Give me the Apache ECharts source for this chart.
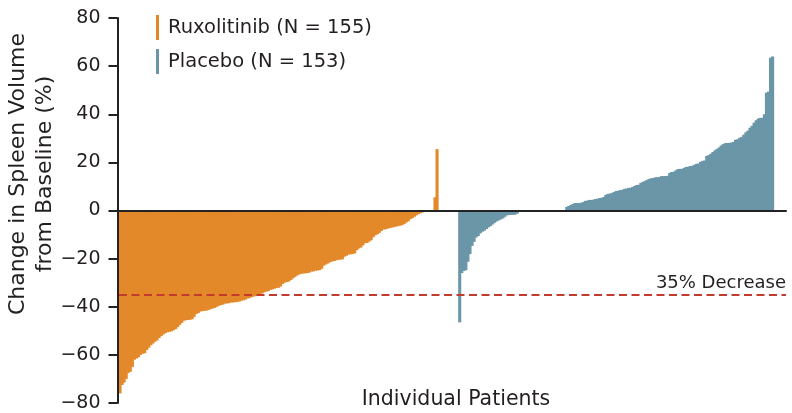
<!DOCTYPE html>
<html><head><meta charset="utf-8">
<script src="https://cdn.jsdelivr.net/npm/echarts@6/dist/echarts.min.js"></script>
<style>html,body{margin:0;padding:0;background:#fff}#c{width:792px;height:413px}</style>
</head><body><div id="c"></div>
<script>
// ---- data ----
const ruxolitinib = [-76,-72.5,-71.5,-70,-67.5,-67,-65,-62,-61.5,-61,
-60,-59.5,-59.3,-58,-57,-56,-55.3,-54.5,-54,-53,
-52.2,-51.5,-51,-50.6,-50.4,-50.2,-49.8,-49.3,-48.5,-47.6,
-46.7,-45.8,-45.6,-45.5,-45.4,-45.2,-44.2,-43,-42.6,-42,
-41.8,-41.7,-41.6,-41.3,-41,-40.7,-40.5,-40,-39.6,-39.3,
-39.1,-38.7,-38.6,-38.5,-38.2,-38.2,-38.1,-38,-37.8,-37.5,
-37.3,-37,-36.5,-36.4,-36,-35.7,-35.6,-35.5,-35,-34.5,
-34,-33.7,-33.5,-33,-32.8,-32.5,-32.2,-32.1,-31.6,-30.5,
-30,-29.7,-29.5,-28.9,-28.2,-27.6,-27,-26.6,-26.3,-26.2,
-26.1,-26,-25.8,-25.4,-25.3,-25,-24.9,-24.8,-24.2,-22.9,
-22.4,-22,-21.5,-21.2,-21,-20.7,-20.5,-20.4,-20.3,-19.2,
-18.8,-18.3,-18.2,-18.1,-17.8,-16.5,-15.8,-15.4,-14.5,-13.6,
-13.5,-12.9,-12.4,-11.1,-10.3,-9.9,-9.3,-8.5,-7.9,-7.8,
-7.5,-7.3,-7.1,-6.9,-6.7,-6.5,-6.3,-6.1,-5.6,-5,
-4.5,-3.6,-3.2,-2.6,-2,-1.5,-1.1,-0.8,-0.5,-0.3,
-0.1,0,0,5.5,25.5];
const placebo = [-46.5,-26,-25.1,-24.8,-21.3,-18.1,-14.7,-13,-11.2,-10.6,
-9.5,-8.8,-8.4,-7.7,-7,-6.5,-5.8,-5.1,-4.5,-4.1,
-3.7,-3.3,-2.6,-2,-1.9,-1.8,-1.8,-1.7,-1.3,-0.5,
-0.4,-0.4,-0.2,-0.2,-0.1,-0.1,0,0,0,0,
0,0,0,0,0,0,0,0,0,0,
0,0,1.5,1.9,2.3,2.7,3.1,3.1,3.1,3.2,
3.5,4,4.1,4.4,4.4,4.5,4.8,4.9,5.2,5.3,
5.6,6.5,6.9,7,7.3,7.7,8.1,8.2,8.5,8.6,
9,9.1,9.4,9.4,9.8,10.2,10.6,10.7,11.5,11.9,
12.3,12.7,13.1,13.4,13.5,13.8,13.8,13.9,14.3,14.3,
14.3,14.4,15.6,16,16.1,16.7,17.2,17.3,17.3,17.7,
18.1,18.2,18.5,18.6,19,19.4,19.5,20.2,20.6,20.8,
22.7,23,23.6,24.3,25,25.6,26.2,27,27.6,28,
28.1,28.1,28.2,28.5,29.4,29.6,30.2,30.6,31.5,32.5,
33.2,34.4,35.2,36.5,37.5,38.2,38.5,38.5,40,49,
49.4,63.5,64];
const seriesNames = ['Ruxolitinib (N = 155)', 'Placebo (N = 153)'];
const yTicks = [-80,-60,-40,-20,0,20,40,60,80];
const thresholdValue = -35;
const thresholdLabel = '35% Decrease';
const xTitle = 'Individual Patients';
const yTitle = 'Change in Spleen Volume\nfrom Baseline (%)';

// ---- layout helpers (empty slots between/after groups) ----
const gapSlots = 10, tailSlots = 6;
const total = ruxolitinib.length + gapSlots + placebo.length + tailSlots;
const categories = Array.from({length: total}, (_, i) => String(i + 1));
const ruxData = categories.map((_, i) => i < ruxolitinib.length ? ruxolitinib[i] : null);
const plStart = ruxolitinib.length + gapSlots;
const plData = categories.map((_, i) => (i >= plStart && i < plStart + placebo.length) ? placebo[i - plStart] : null);

const FONT = 'DejaVu Sans';
const TXT = '#231f20';
const ORANGE = '#E3892A', BLUE = '#6A96A8';
const chart = echarts.init(document.getElementById('c'), null, {renderer: 'canvas'});
chart.setOption({
  animation: false,
  backgroundColor: '#fff',
  textStyle: {fontFamily: FONT},
  grid: {left: 119, right: 6, top: 18, bottom: 10, containLabel: false},
  legend: {
    orient: 'vertical', left: 156, top: 15, padding: 0,
    itemWidth: 3, itemHeight: 25, itemGap: 9,
    icon: 'rect', selectedMode: false,
    textStyle: {fontFamily: FONT, fontSize: 19.5, color: TXT, padding: [0, 0, 0, 4]},
    data: seriesNames
  },
  xAxis: {
    type: 'category', data: categories, z: 5,
    axisLine: {onZero: true, lineStyle: {color: '#222', width: 2}},
    axisTick: {show: false}, axisLabel: {show: false}, splitLine: {show: false}
  },
  yAxis: {
    type: 'value', min: yTicks[0], max: yTicks[yTicks.length - 1], interval: 20,
    offset: 1.5,
    axisLine: {show: true, lineStyle: {color: '#222', width: 2}},
    axisTick: {show: true, length: 9, lineStyle: {color: '#222', width: 2}},
    axisLabel: {fontFamily: FONT, fontSize: 19, color: TXT, margin: 17,
      formatter: v => String(v).replace('-', '\u2212')},
    splitLine: {show: false}
  },
  series: [
    {
      name: seriesNames[0], type: 'bar', data: ruxData, barGap: '-100%', barWidth: '150%',
      itemStyle: {color: ORANGE, borderWidth: 0}, z: 2,
      markLine: {
        silent: true, symbol: 'none', z: 6,
        lineStyle: {color: '#C23B2E', type: [8, 4.5], width: 1.8},
        label: {show: true, position: 'insideEndTop', formatter: thresholdLabel,
          fontFamily: FONT, fontSize: 18, color: TXT, distance: [0, 2]},
        data: [{yAxis: thresholdValue}]
      }
    },
    {
      name: seriesNames[1], type: 'bar', data: plData, barGap: '-100%', barWidth: '150%',
      itemStyle: {color: BLUE, borderWidth: 0}, z: 2
    }
  ],
  graphic: [
    {type: 'text', x: 32, y: 174, rotation: Math.PI / 2,
      style: {text: yTitle, font: '22px "DejaVu Sans"', fill: TXT, align: 'center',
        verticalAlign: 'middle', lineHeight: 27}},
    {type: 'text', x: 456, y: 400,
      style: {text: xTitle, font: '20.5px "DejaVu Sans"', fill: TXT, align: 'center', verticalAlign: 'middle'}}
  ]
});
</script>
</body></html>
